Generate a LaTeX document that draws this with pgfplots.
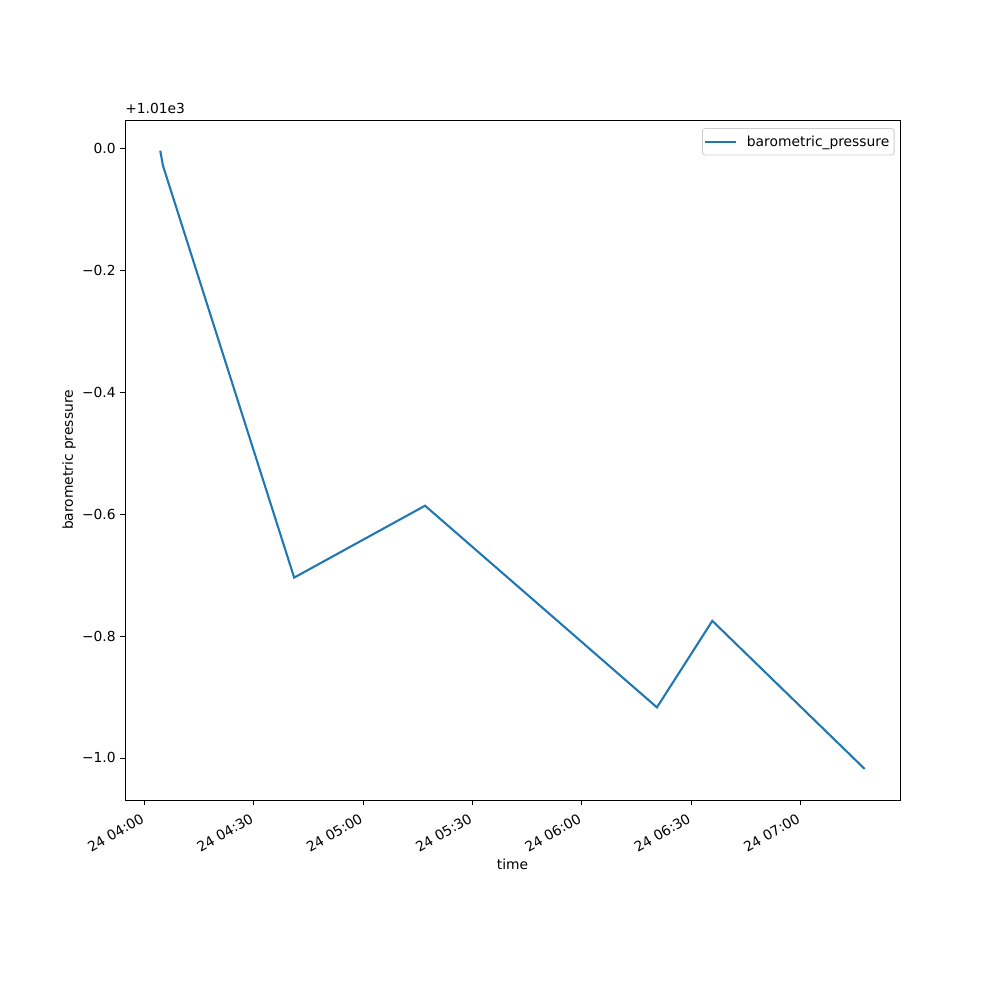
\documentclass[border=0pt]{standalone}
\usepackage{pgfplots}
\pgfplotsset{compat=1.18}
\usepackage{fontspec}
\setmainfont{DejaVu Sans}
\definecolor{mplblue}{HTML}{1F77B4}

\begin{document}
\begin{tikzpicture}[font=\fontsize{10}{12}\selectfont]
% whole figure: 1000 px = 720 bp
\path (0,0) rectangle (720bp,720bp);
\begin{axis}[
    at={(90bp,144bp)}, anchor=south west,
    scale only axis,
    width=558bp, height=489.6bp,
    xmin=-5.37, xmax=207.3,
    ymin=-1.069, ymax=0.047,
    clip mode=individual,
    axis line style={line width=0.6bp},
    tick style={line width=0.6bp, black},
    tick align=outside,
    major tick length=3.5bp,
    xtick pos=bottom, ytick pos=left,
    xtick={0,30,60,90,120,150,180},
    xticklabels={24 04:00,24 04:30,24 05:00,24 05:30,24 06:00,24 06:30,24 07:00},
    xticklabel style={rotate=30, anchor=north east, inner sep=2bp, xshift=-3.6bp, yshift=-1bp},
    ytick={-1,-0.8,-0.6,-0.4,-0.2,0},
    yticklabels={−1.0,−0.8,−0.6,−0.4,−0.2,0.0},
    yticklabel style={inner sep=3bp},
    xlabel={time},
    ylabel={barometric pressure},
    xlabel style={yshift=2bp},
    ylabel style={yshift=-2bp},
    legend style={at={(0.993,0.988)}, anchor=north east,
        draw=black!20, rounded corners=2bp, line width=0.6bp,
        inner xsep=1.5bp, inner ysep=3bp, font=\fontsize{10}{12}\selectfont,
        /tikz/every odd column/.append style={column sep=5bp}},
    legend cell align=left,
    legend image post style={xscale=1.3},
]
\addplot[mplblue, line width=1.5bp] coordinates {
    (4.3,-0.0033) (5.05,-0.028) (41.05,-0.704) (76.97,-0.586)
    (140.6,-0.917) (155.8,-0.775) (197.6,-1.018)
};
\addlegendentry{barometric\_pressure}
\node[anchor=south west, inner sep=0pt] at (rel axis cs:0,1) [yshift=4bp] {+1.01e3};
\end{axis}
\end{tikzpicture}
\end{document}
